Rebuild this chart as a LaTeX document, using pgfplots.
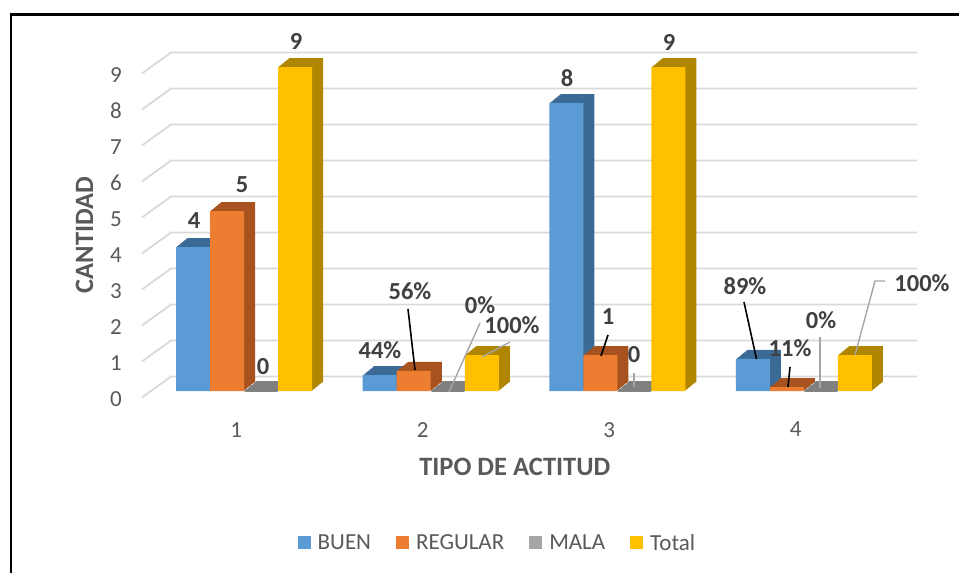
\documentclass[border=0pt]{standalone}
\usepackage{pgfplots}
\pgfplotsset{compat=1.18}
\usepackage{pgfplotstable}
\usepackage{fontspec}
\setmainfont{Carlito}
\definecolor{cBuen}{HTML}{5B9BD5}
\definecolor{cBuenS}{HTML}{3C6A96}
\definecolor{cReg}{HTML}{ED7D31}
\definecolor{cRegS}{HTML}{A8531F}
\definecolor{cMala}{HTML}{A5A5A5}
\definecolor{cMalaS}{HTML}{808080}
\definecolor{cTot}{HTML}{FFC000}
\definecolor{cTotS}{HTML}{B08600}
\definecolor{gridc}{HTML}{D9D9D9}
\definecolor{tickc}{HTML}{595959}
\definecolor{lblc}{HTML}{404040}
\definecolor{leadg}{HTML}{A6A6A6}

\pgfplotstableread{
g v
1 4
2 0.44
3 8
4 0.89
}\buen
\pgfplotstableread{
g v
1 5
2 0.56
3 1
4 0.11
}\regular
\pgfplotstableread{
g v
1 0
2 0
3 0
4 0
}\mala
\pgfplotstableread{
g v
1 9
2 1
3 9
4 1
}\total

\newcommand{\fs}{\fontsize{23}{28}\selectfont}
\newcommand{\fl}{\fontsize{24.5}{29}\selectfont}
\newcommand{\ft}{\fontsize{26.5}{31}\selectfont}
\newcommand{\sidecopies}[3]{%
  \pgfplotsinvokeforeach{1,...,11}{%
    \addplot[ybar, bar width=34pt, bar shift=#2, fill=#3, draw=none, forget plot,
      xshift=##1pt, yshift={##1*0.818pt}] table[x=g,y=v] {#1};
  }%
}
\begin{document}
\begin{tikzpicture}[x=1pt,y=1pt,
  dl/.style={font=\fl\bfseries, text=lblc, inner sep=0pt}]
\begin{axis}[
  at={(0,0)}, anchor=south west,
  scale only axis, width=746pt, height=324pt,
  xmin=0.5, xmax=4.5, ymin=0, ymax=9,
  clip=false,
  axis line style={draw=none}, tick style={draw=none},
  xtick={1,2,3,4}, ytick={0,1,2,3,4,5,6,7,8,9},
  /pgf/number format/assume math mode=true,
  tick label style={font=\fs, text=tickc},
  xticklabel style={anchor=north, inner sep=0pt, yshift=-31pt, xshift=-8pt},
  yticklabel style={anchor=east, inner sep=0pt, xshift=-29pt, yshift=-8pt},
  xlabel={TIPO DE ACTITUD}, ylabel={CANTIDAD},
  label style={font=\ft\bfseries, text=tickc},
  xlabel style={at={(axis description cs:0.4877,-0.2346)}, anchor=center},
  ylabel style={at={(axis description cs:-0.0891,0.4815)}, anchor=center},
  legend columns=-1,
  legend style={at={(axis description cs:0.4631,-0.469)}, anchor=center,
    draw=none, fill=none, font=\fs, text=tickc, inner sep=0pt,
    nodes={inner sep=0pt},
    /tikz/every odd column/.append style={column sep=7pt},
    /tikz/every even column/.append style={column sep=25pt}},
]
% gridlines on back wall and left wall
\pgfplotsinvokeforeach{0,...,9}{%
  \draw[gridc, line width=1.8pt] ([shift={(-9pt,-6.5pt)}]axis cs:0.5,#1) -- ([shift={(20pt,14.5pt)}]axis cs:0.5,#1) -- ([shift={(20pt,14.5pt)}]axis cs:4.5,#1);
}
% BUEN
\sidecopies{\buen}{-51pt}{cBuenS}
\addplot[ybar, bar width=34pt, bar shift=-51pt, fill=cBuen, draw=none,
  legend image code/.code={\fill[cBuen] (0pt,-6.5pt) rectangle (13pt,6.5pt);}] table[x=g,y=v] {\buen};
\addlegendentry{BUEN}
% REGULAR
\sidecopies{\regular}{-17pt}{cRegS}
\addplot[ybar, bar width=34pt, bar shift=-17pt, fill=cReg, draw=none,
  legend image code/.code={\fill[cReg] (0pt,-6.5pt) rectangle (13pt,6.5pt);}] table[x=g,y=v] {\regular};
\addlegendentry{REGULAR}
% MALA (zero height: floor slab)
\pgfplotsinvokeforeach{0,...,11}{%
  \addplot[ybar, bar width=33pt, bar shift=17pt, fill=none, draw=cMalaS, line width=1.5pt, forget plot,
    xshift=#1pt, yshift={#1*0.818pt}] table[x=g,y=v] {\mala};
}
\addplot[ybar, bar width=34pt, bar shift=17pt, fill=cMala, draw=none,
  legend image code/.code={\fill[cMala] (0pt,-6.5pt) rectangle (13pt,6.5pt);}] table[x=g,y=v] {\mala};
\addlegendentry{MALA}
% Total
\sidecopies{\total}{51pt}{cTotS}
\addplot[ybar, bar width=34pt, bar shift=51pt, fill=cTot, draw=none,
  legend image code/.code={\fill[cTot] (0pt,-6.5pt) rectangle (13pt,6.5pt);}] table[x=g,y=v] {\total};
\addlegendentry{Total}

% leader lines
\draw[black, line width=1.6pt] (axis cs:1.878,2.278) -- (axis cs:1.9155,0.583);
\draw[leadg, line width=1.4pt] (axis cs:2.264,1.889) -- (axis cs:2.098,-0.028);
\draw[leadg, line width=1.4pt] (axis cs:2.425,1.361) -- (axis cs:2.275,0.944);
\draw[black, line width=1.6pt] (axis cs:2.9504,1.556) -- (axis cs:2.9129,0.972);
\draw[leadg, line width=1.4pt] (axis cs:3.0898,0.5) -- (axis cs:3.0898,0.111);
\draw[black, line width=1.6pt] (axis cs:3.6796,2.472) -- (axis cs:3.7466,0.889);
\draw[black, line width=1.6pt] (axis cs:3.9263,0.667) -- (axis cs:3.9155,0.111);
\draw[leadg, line width=1.4pt] (axis cs:4.0871,1.5) -- (axis cs:4.0871,0.083);
\draw[leadg, line width=1.4pt] (axis cs:4.4357,3.056) -- (axis cs:4.382,3.056) -- (axis cs:4.275,1.0);

% data labels
\node[dl] at (axis cs:0.7306,4.722) {4};
\node[dl] at (axis cs:0.988,5.722) {5};
\node[dl] at (axis cs:1.1005,0.667) {0};
\node[dl] at (axis cs:1.2775,9.722) {9};
\node[dl] at (axis cs:1.7279,1.139) {44\%};
\node[dl] at (axis cs:1.8887,2.778) {56\%};
\node[dl] at (axis cs:2.264,2.389) {0\%};
\node[dl] at (axis cs:2.4357,1.833) {100\%};
\node[dl] at (axis cs:2.7306,8.694) {8};
\node[dl] at (axis cs:3.2775,9.694) {9};
\node[dl] at (axis cs:2.9504,2.056) {1};
\node[dl] at (axis cs:3.0898,1.0) {0};
\node[dl] at (axis cs:3.685,2.917) {89\%};
\node[dl] at (axis cs:3.9263,1.194) {11\%};
\node[dl] at (axis cs:4.0925,1.972) {0\%};
\node[dl] at (axis cs:4.634,3.0) {100\%};
\end{axis}
% outer frame
\draw[black, line width=2.6pt] (-140,-190) -- (-140,376.5) -- (815,376.5);
\pgfresetboundingbox
\path[use as bounding box] (-151,-182) rectangle (808,391);
\end{tikzpicture}
\end{document}
